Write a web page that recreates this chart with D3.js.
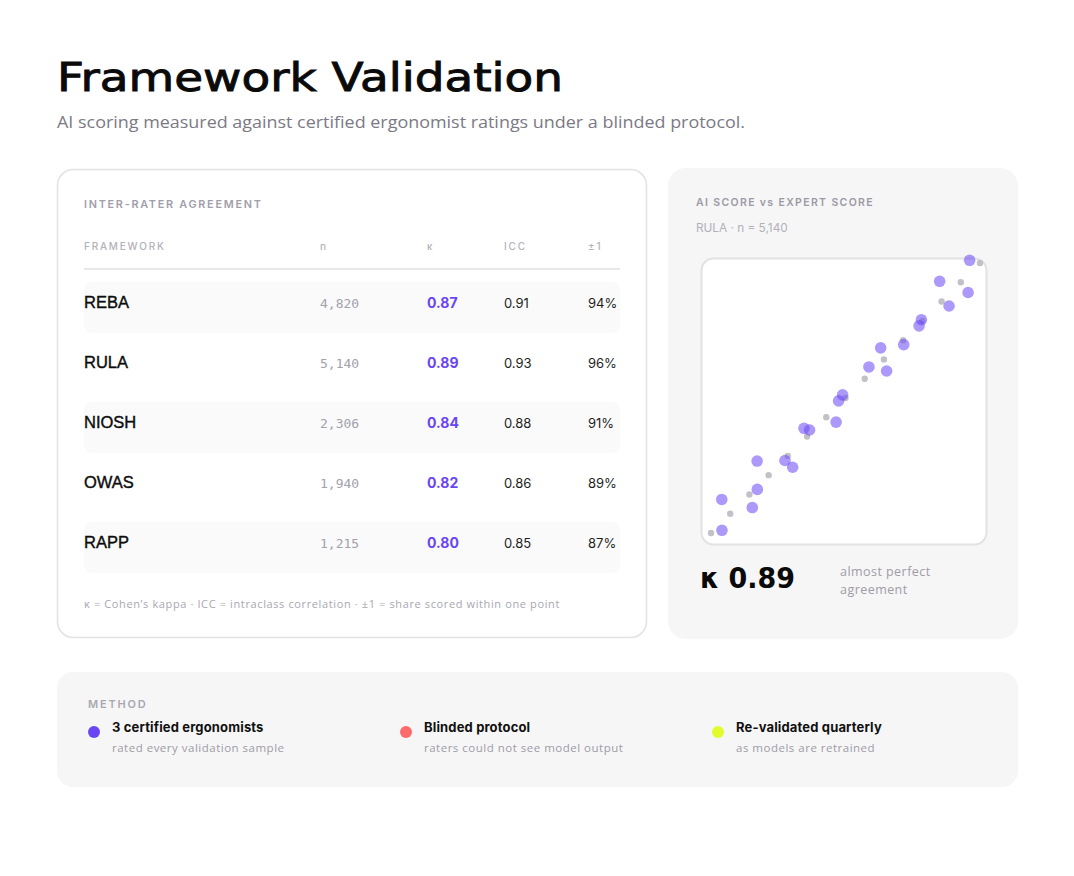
<!DOCTYPE html>
<html>
<head>
<meta charset="utf-8">
<script src="https://cdn.jsdelivr.net/npm/d3@7.9.0/dist/d3.min.js"></script>
<style>
  body { margin: 0; background: #fff; }
  svg { display: block; font-family: 'Inter', 'Noto Sans', sans-serif; }
</style>
</head>
<body>
<svg id="chart" width="1074" height="876"></svg>
<script>
// table data
const frameworks = ['REBA', 'RULA', 'NIOSH', 'OWAS', 'RAPP'];
const sampleSizes = [4820, 5140, 2306, 1940, 1215];
const kappaValues = [0.87, 0.89, 0.84, 0.82, 0.80];
const iccValues = [0.91, 0.93, 0.88, 0.86, 0.85];
const withinOne = [94, 96, 91, 89, 87];
const columnLabels = ['FRAMEWORK', 'n', 'κ', 'ICC', '±1'];

// scatter data (RULA sample)
const referenceScores = [1, 2, 3, 4, 5, 6, 7, 8, 9, 10, 11, 12, 13, 14, 15];
const expertScores = [1.57, 1.56, 3.15, 3.41, 3.40, 4.85, 5.25, 5.84, 6.13, 7.51, 7.64,
                      7.85, 9.22, 9.83, 10.14, 11.03, 11.83, 11.95, 12.9, 13.39, 14.38, 14.46];
const aiScores = [1.14, 2.74, 2.32, 3.26, 4.73, 4.76, 4.41, 6.43, 6.34, 6.75, 7.85,
                  8.16, 9.61, 10.6, 9.40, 10.77, 11.74, 12.06, 14.05, 12.77, 13.47, 15.14];

// method notes
const methodTitles = ['3 certified ergonomists', 'Blinded protocol', 'Re-validated quarterly'];
const methodNotes = ['rated every validation sample', 'raters could not see model output', 'as models are retrained'];
const methodColors = ['#6a45f4', '#fb6b6b', '#e2fb2c'];

const purple = '#6a45f4';
const bodyFont = 'Open Sans';
const svg = d3.select('#chart');

// heading
svg.append('text')
  .attr('x', 57).attr('y', 91)
  .attr('font-family', 'DejaVu Sans')
  .attr('font-size', 39)
  .attr('textLength', 506).attr('lengthAdjust', 'spacingAndGlyphs')
  .attr('fill', '#0a0a0a')
  .attr('stroke', '#0a0a0a').attr('stroke-width', 0.9)
  .text('Framework Validation');

svg.append('text')
  .attr('x', 57).attr('y', 128)
  .attr('font-family', bodyFont)
  .attr('font-size', 16)
  .attr('textLength', 688).attr('lengthAdjust', 'spacingAndGlyphs')
  .attr('fill', '#7b7985')
  .text('AI scoring measured against certified ergonomist ratings under a blinded protocol.');

// left card: agreement table
svg.append('rect')
  .attr('x', 57.5).attr('y', 169.5).attr('width', 589).attr('height', 468)
  .attr('rx', 16).attr('fill', '#fff')
  .attr('stroke', '#e3e3e3').attr('stroke-width', 1.6);

svg.append('text')
  .attr('x', 84).attr('y', 208)
  .attr('font-size', 10.8).attr('font-weight', 600)
  .attr('letter-spacing', 1.75)
  .attr('fill', '#a09eaa')
  .text('INTER-RATER AGREEMENT');

const colX = [84, 320, 427, 504, 588];

svg.selectAll('.col-label')
  .data(columnLabels)
  .join('text')
  .attr('class', 'col-label')
  .attr('x', (d, i) => colX[i]).attr('y', 250)
  .attr('font-size', 10).attr('font-weight', 500)
  .attr('letter-spacing', 1.8)
  .attr('fill', '#b3b1ba')
  .text(d => d);

svg.append('line')
  .attr('x1', 84).attr('x2', 620).attr('y1', 269).attr('y2', 269)
  .attr('stroke', '#e8e8e8').attr('stroke-width', 2);

const rowY = d3.scaleBand().domain(frameworks).range([277, 577]);

const rows = svg.selectAll('.row')
  .data(frameworks)
  .join('g')
  .attr('class', 'row')
  .attr('transform', d => `translate(0,${rowY(d)})`);

rows.filter((d, i) => i % 2 === 0)
  .append('rect')
  .attr('x', 84).attr('y', 5).attr('width', 536).attr('height', 51)
  .attr('rx', 8).attr('fill', '#fafafa');

rows.append('text')
  .attr('x', colX[0]).attr('y', 31)
  .attr('font-family', 'Liberation Sans')
  .attr('font-size', 16.5)
  .attr('fill', '#0d0d0d')
  .attr('stroke', '#0d0d0d').attr('stroke-width', 0.4)
  .text(d => d);

rows.append('text')
  .attr('x', colX[1]).attr('y', 31)
  .attr('font-family', 'DejaVu Sans Mono')
  .attr('font-size', 13)
  .attr('fill', '#a3a1ab')
  .text((d, i) => d3.format(',')(sampleSizes[i]));

rows.append('text')
  .attr('x', colX[2]).attr('y', 31)
  .attr('font-size', 14).attr('font-weight', 700)
  .attr('fill', purple)
  .text((d, i) => kappaValues[i].toFixed(2));

rows.append('text')
  .attr('x', colX[3]).attr('y', 31)
  .attr('font-size', 13)
  .attr('fill', '#1e1e22')
  .text((d, i) => iccValues[i].toFixed(2));

rows.append('text')
  .attr('x', colX[4]).attr('y', 31)
  .attr('font-size', 13)
  .attr('fill', '#1e1e22')
  .text((d, i) => withinOne[i] + '%');

svg.append('text')
  .attr('x', 84).attr('y', 608)
  .attr('font-family', bodyFont)
  .attr('font-size', 11)
  .attr('letter-spacing', 0.62)
  .attr('fill', '#a9a7b1')
  .text('κ = Cohen\u2019s kappa · ICC = intraclass correlation · ±1 = share scored within one point');

// right card: scatter
svg.append('rect')
  .attr('x', 668).attr('y', 168).attr('width', 350).attr('height', 471)
  .attr('rx', 18).attr('fill', '#f6f6f6');

svg.append('text')
  .attr('x', 696).attr('y', 206)
  .attr('font-size', 10.5).attr('font-weight', 600)
  .attr('letter-spacing', 1.35)
  .attr('fill', '#9c9aa5')
  .text('AI SCORE vs EXPERT SCORE');

svg.append('text')
  .attr('x', 696).attr('y', 232)
  .attr('font-size', 11.8)
  .attr('fill', '#b3b1ba')
  .text('RULA · n = 5,140');

svg.append('rect')
  .attr('x', 701.5).attr('y', 258.5).attr('width', 285).attr('height', 286)
  .attr('rx', 12).attr('fill', '#fff')
  .attr('stroke', '#e2e2e2').attr('stroke-width', 2);

const x = d3.scaleLinear().domain([1, 15]).range([711, 980]);
const y = d3.scaleLinear().domain([1, 15]).range([533, 263]);

svg.append('g')
  .selectAll('circle')
  .data(referenceScores)
  .join('circle')
  .attr('cx', d => x(d)).attr('cy', d => y(d))
  .attr('r', 3.2)
  .attr('fill', '#c3c1c8');

svg.append('g')
  .selectAll('circle')
  .data(expertScores)
  .join('circle')
  .attr('cx', d => x(d)).attr('cy', (d, i) => y(aiScores[i]))
  .attr('r', 5.8)
  .attr('fill', purple).attr('fill-opacity', 0.55);

svg.append('text')
  .attr('x', 700).attr('y', 588)
  .attr('font-family', 'DejaVu Sans')
  .attr('font-size', 28).attr('font-weight', 700)
  .attr('textLength', 95).attr('lengthAdjust', 'spacingAndGlyphs')
  .attr('fill', '#0a0a0a')
  .text('κ 0.89');

svg.append('text')
  .attr('x', 840).attr('y', 576)
  .attr('font-family', bodyFont)
  .attr('font-size', 12.5)
  .attr('letter-spacing', 0.45)
  .attr('fill', '#9e9ca6')
  .selectAll('tspan')
  .data(['almost perfect', 'agreement'])
  .join('tspan')
  .attr('x', 840).attr('dy', (d, i) => i ? 18 : 0)
  .text(d => d);

// method strip
svg.append('rect')
  .attr('x', 57).attr('y', 672).attr('width', 961).attr('height', 115)
  .attr('rx', 16).attr('fill', '#f6f6f6');

svg.append('text')
  .attr('x', 88).attr('y', 708)
  .attr('font-size', 11).attr('font-weight', 600)
  .attr('letter-spacing', 1.8)
  .attr('fill', '#a9a7b1')
  .text('METHOD');

const methodX = d3.scalePoint().domain(methodTitles).range([94, 718]);

const notes = svg.selectAll('.note')
  .data(methodTitles)
  .join('g')
  .attr('class', 'note')
  .attr('transform', d => `translate(${methodX(d)},0)`);

notes.append('circle')
  .attr('cx', 0).attr('cy', 732).attr('r', 6)
  .attr('fill', (d, i) => methodColors[i]);

notes.append('text')
  .attr('x', 18).attr('y', 732)
  .attr('font-size', 13).attr('font-weight', 700)
  .attr('letter-spacing', 0.15)
  .attr('fill', '#111')
  .text(d => d);

notes.append('text')
  .attr('x', 18).attr('y', 752)
  .attr('font-family', bodyFont)
  .attr('font-size', 11.5)
  .attr('letter-spacing', 0.5)
  .attr('fill', '#9e9ca6')
  .text((d, i) => methodNotes[i]);
</script>
</body>
</html>
